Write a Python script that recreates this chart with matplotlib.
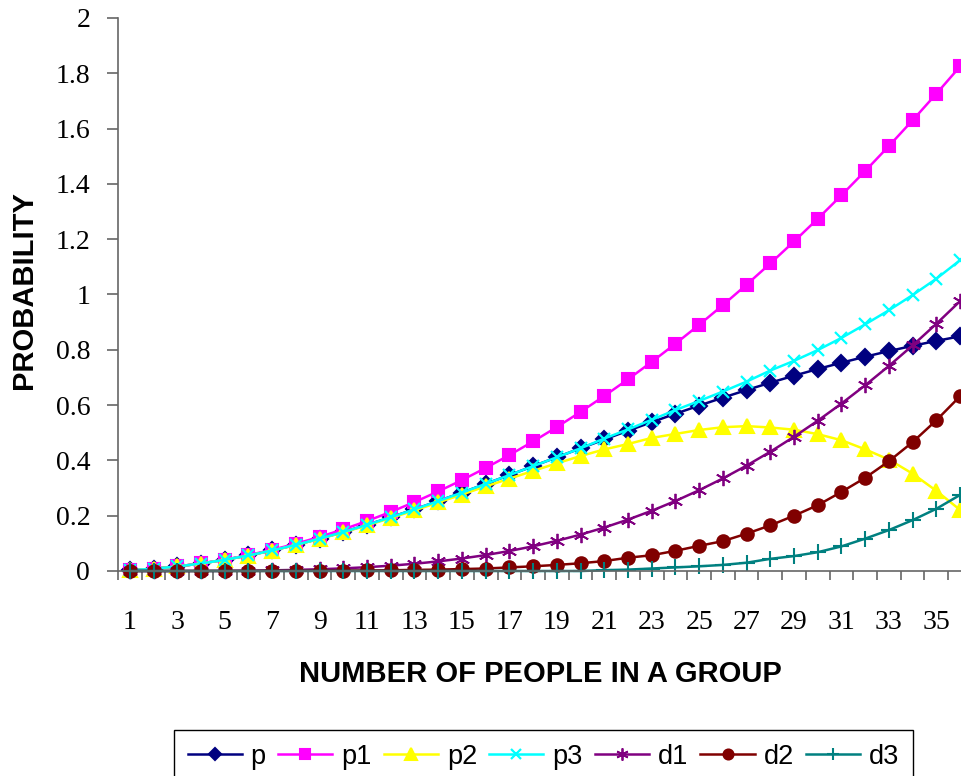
import matplotlib
matplotlib.use('Agg')
import matplotlib.pyplot as plt
from matplotlib.ticker import FixedLocator, FuncFormatter

group = list(range(1, 37))

p = [0.0027, 0.0082, 0.0164, 0.0271, 0.0405, 0.0562, 0.0743, 0.0946, 0.1169, 0.1411,
     0.1670, 0.1944, 0.2231, 0.2529, 0.2836, 0.3150, 0.3469, 0.3791, 0.4114, 0.4437,
     0.4757, 0.5073, 0.5383, 0.5687, 0.5982, 0.6269, 0.6545, 0.6810, 0.7063, 0.7305,
     0.7533, 0.7750, 0.7953, 0.8144, 0.8322, 0.8487]
p1 = [0.0027, 0.0082, 0.0164, 0.0274, 0.0411, 0.0575, 0.0767, 0.0986, 0.1233, 0.1507,
      0.1808, 0.2137, 0.2493, 0.2877, 0.3288, 0.3726, 0.4192, 0.4685, 0.5205, 0.5753,
      0.6329, 0.6932, 0.7562, 0.8219, 0.8904, 0.9616, 1.0356, 1.1123, 1.1918, 1.2740,
      1.3589, 1.4466, 1.5370, 1.6301, 1.7260, 1.8247]
p2 = [0.0027, 0.0082, 0.0164, 0.0271, 0.0403, 0.0559, 0.0739, 0.0939, 0.1160, 0.1396,
      0.1650, 0.1917, 0.2191, 0.2479, 0.2766, 0.3060, 0.3339, 0.3621, 0.3894, 0.4157,
      0.4397, 0.4593, 0.4813, 0.4957, 0.5100, 0.5200, 0.5240, 0.5190, 0.5110, 0.4950,
      0.4730, 0.4400, 0.4030, 0.3520, 0.2900, 0.2210]
p3 = [0.0027, 0.0082, 0.0164, 0.0271, 0.0405, 0.0562, 0.0743, 0.0946, 0.1169, 0.1411,
      0.1670, 0.1944, 0.2231, 0.2529, 0.2836, 0.3150, 0.3469, 0.3791, 0.4114, 0.4437,
      0.4790, 0.5120, 0.5470, 0.5820, 0.6150, 0.6490, 0.6850, 0.7250, 0.7600, 0.7990,
      0.8430, 0.8920, 0.9430, 0.9980, 1.0570, 1.1240]
d1 = [0.0000, 0.0000, 0.0001, 0.0003, 0.0006, 0.0013, 0.0024, 0.0040, 0.0063, 0.0095,
      0.0138, 0.0193, 0.0262, 0.0348, 0.0452, 0.0576, 0.0723, 0.0894, 0.1091, 0.1317,
      0.1572, 0.1859, 0.2178, 0.2532, 0.2922, 0.3348, 0.3812, 0.4314, 0.4855, 0.5435,
      0.6056, 0.6716, 0.7417, 0.8158, 0.8939, 0.9759]
d2 = [0.0000, 0.0000, 0.0000, 0.0000, 0.0002, 0.0003, 0.0004, 0.0007, 0.0010, 0.0015,
      0.0020, 0.0027, 0.0040, 0.0050, 0.0070, 0.0090, 0.0130, 0.0170, 0.0220, 0.0280,
      0.0360, 0.0480, 0.0570, 0.0730, 0.0910, 0.1080, 0.1350, 0.1650, 0.2000, 0.2380,
      0.2860, 0.3370, 0.3970, 0.4660, 0.5450, 0.6320]
d3 = [0.0000, 0.0000, 0.0000, 0.0000, 0.0000, 0.0000, 0.0000, 0.0000, 0.0000, 0.0000,
      0.0000, 0.0000, 0.0000, 0.0000, 0.0000, 0.0000, 0.0000, 0.0000, 0.0000, 0.0000,
      0.0030, 0.0050, 0.0090, 0.0130, 0.0170, 0.0220, 0.0300, 0.0440, 0.0540, 0.0680,
      0.0890, 0.1170, 0.1480, 0.1840, 0.2250, 0.2750]

# name, values, colour, marker, size, marker edge width
series = [
    ('p', p, '#000080', 'D', 8, 1.5),
    ('p1', p1, '#FF00FF', 's', 9, 1.5),
    ('p2', p2, '#FFFF00', '^', 10, 1.5),
    ('p3', p3, '#00FFFF', 'x', 9, 1.6),
    ('d1', d1, '#800080', (6, 2, 0), 11, 1.3),
    ('d2', d2, '#800000', 'o', 9, 1.5),
    ('d3', d3, '#008080', '+', 11, 1.5),
]

fig = plt.figure(figsize=(9.62, 7.76), dpi=100)
ax = fig.add_axes([118 / 962, 205 / 776, 36 * 23.72 / 962, 553 / 776])

for name, vals, col, mk, ms, mew in series:
    ax.plot(group, vals, color=col, lw=1.8, marker=mk, markersize=ms,
            markerfacecolor=col, markeredgecolor=col, markeredgewidth=mew,
            label=name, clip_on=False)

ax.set_xlim(0.5, 36.5)
ax.set_ylim(0, 2)

for s in ('top', 'right'):
    ax.spines[s].set_visible(False)
for s in ('left', 'bottom'):
    ax.spines[s].set_color('#666666')
    ax.spines[s].set_linewidth(1.2)

ax.set_yticks([i * 0.2 for i in range(11)])
ax.yaxis.set_major_formatter(FuncFormatter(lambda v, _: f'{v:g}'))
ax.tick_params(axis='y', direction='out', length=8, width=1.2, color='#666666', pad=12)

# category axis: labels on odd groups, tick marks between categories
ax.xaxis.set_major_locator(FixedLocator(group[::2]))
ax.xaxis.set_minor_locator(FixedLocator([g + 0.5 for g in range(0, 37)]))
ax.tick_params(axis='x', which='major', length=0, pad=28)
ax.tick_params(axis='x', which='minor', direction='out', length=6.5, width=1.2, color='#666666')

for lbl in ax.get_xticklabels() + ax.get_yticklabels():
    lbl.set_fontfamily('Liberation Serif')
    lbl.set_fontsize(20)

fig.text(540 / 962, 1 - 674 / 776, 'NUMBER OF PEOPLE IN A GROUP', ha='center', va='center',
         fontfamily='Liberation Sans', fontweight='bold', fontsize=21)
fig.text(24 / 962, 1 - 290 / 776, 'PROBABILITY', ha='center', va='center', rotation=90,
         fontfamily='Liberation Sans', fontweight='bold', fontsize=21)

leg = fig.legend(loc='upper left', bbox_to_anchor=(174 / 962, 1 - 730 / 776), ncol=7,
                 frameon=True, fancybox=False, edgecolor='black', framealpha=1,
                 prop={'family': 'Liberation Sans', 'size': 19.5}, markerscale=0.8,
                 handlelength=2.0, handletextpad=0.33, columnspacing=0.45,
                 borderpad=0.5, borderaxespad=0)
leg.get_frame().set_linewidth(1.0)

fig.savefig('out.png', dpi=100)
